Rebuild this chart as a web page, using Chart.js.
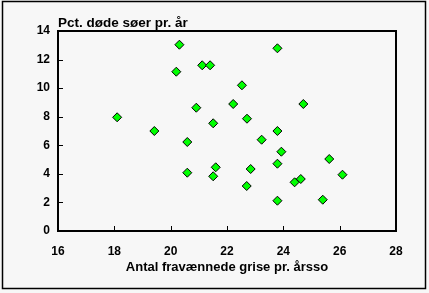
<!DOCTYPE html>
<html>
<head>
<meta charset="utf-8">
<script src="https://cdn.jsdelivr.net/npm/chart.js@4"></script>
<style>
  html, body { margin: 0; padding: 0; background: #f7f7f7; }
  canvas { display: block; }
</style>
</head>
<body>
<canvas id="chart" width="429" height="293"></canvas>
<script>
// antal fravænnede grise pr. årsso (x) og pct. døde søer pr. år (y)
const grise = [18.1, 19.42, 20.31, 20.2, 20.59, 20.59, 20.91, 21.12, 21.4, 21.51, 21.6, 21.51, 22.22, 22.53, 22.71,
  23.23, 22.84, 22.7, 23.79, 23.79, 23.93, 23.79, 23.79, 24.71, 24.4, 24.62, 25.63, 26.1, 25.4];
const doede = [7.96, 7.0, 13.04, 11.15, 6.23, 4.08, 8.63, 11.6, 11.6, 7.54, 4.46, 3.83, 8.89, 10.2, 7.86,
  6.39, 4.34, 3.15, 12.79, 7.0, 5.55, 4.71, 2.12, 8.89, 3.41, 3.64, 5.04, 3.94, 2.19];
const xTicks = [16, 18, 20, 22, 24, 26, 28];
const yTicks = [0, 2, 4, 6, 8, 10, 12, 14];

const points = grise.map((x, i) => ({ x: x, y: doede[i] }));

Chart.defaults.font.family = "'Liberation Sans', Arial, sans-serif";
Chart.defaults.color = "#000";

// baggrund, ramme og indadvendte tick-streger
const frame = {
  id: "frame",
  beforeDraw(chart) {
    const ctx = chart.ctx;
    ctx.save();
    ctx.fillStyle = "#f7f7f7";
    ctx.fillRect(0, 0, chart.width, chart.height);
    ctx.restore();
  },
  afterDraw(chart) {
    const ctx = chart.ctx;
    const a = chart.chartArea;
    const xs = chart.scales.x;
    const ys = chart.scales.y;
    ctx.save();
    ctx.strokeStyle = "#000";
    ctx.lineWidth = 1.5;
    ctx.strokeRect(2.5, 1.5, 423, 287);
    ctx.lineWidth = 2;
    ctx.strokeRect(a.left, a.top, a.right - a.left, a.bottom - a.top);
    ctx.beginPath();
    xTicks.slice(1, -1).forEach(v => {
      const px = Math.round(xs.getPixelForValue(v)) + 0.5;
      ctx.moveTo(px, a.bottom);
      ctx.lineTo(px, a.bottom - 5);
    });
    yTicks.slice(1, -1).forEach(v => {
      const py = Math.round(ys.getPixelForValue(v)) + 0.5;
      ctx.moveTo(a.left, py);
      ctx.lineTo(a.left + 5, py);
    });
    ctx.lineWidth = 1;
    ctx.stroke();
    ctx.restore();
  }
};

new Chart(document.getElementById("chart"), {
  type: "scatter",
  data: {
    datasets: [{
      data: points,
      pointStyle: "rectRot",
      pointRadius: 4.5,
      pointBorderWidth: 1,
      pointBorderColor: "#000",
      pointBackgroundColor: "#00ff00"
    }]
  },
  options: {
    responsive: false,
    animation: false,
    devicePixelRatio: 1,
    layout: { padding: { top: 12, right: 33, left: 0, bottom: 0 } },
    plugins: {
      legend: { display: false },
      tooltip: { enabled: false },
      title: {
        display: true,
        text: "Pct. døde søer pr. år",
        align: "start",
        fullSize: false,
        color: "#000",
        font: { size: 13.5, weight: "bold", lineHeight: 1 },
        padding: { top: 5, bottom: 0.5 }
      }
    },
    scales: {
      x: {
        type: "linear",
        min: 16,
        max: 28,
        afterFit: s => { s.height = 62; },
        afterBuildTicks: s => { s.ticks = xTicks.map(v => ({ value: v })); },
        grid: { display: false, drawTicks: false },
        border: { display: false },
        ticks: { padding: 13, font: { size: 12, weight: "bold" }, color: "#000" },
        title: {
          display: true,
          text: "Antal fravænnede grise pr. årsso",
          color: "#000",
          font: { size: 13, weight: "bold" },
          padding: { top: 0, bottom: 18 }
        }
      },
      y: {
        min: 0,
        max: 14,
        afterFit: s => { s.width = 58; },
        afterBuildTicks: s => { s.ticks = yTicks.map(v => ({ value: v })); },
        grid: { display: false, drawTicks: false },
        border: { display: false },
        ticks: { padding: 8, font: { size: 12, weight: "bold" }, color: "#000" }
      }
    }
  },
  plugins: [frame]
});
</script>
</body>
</html>
